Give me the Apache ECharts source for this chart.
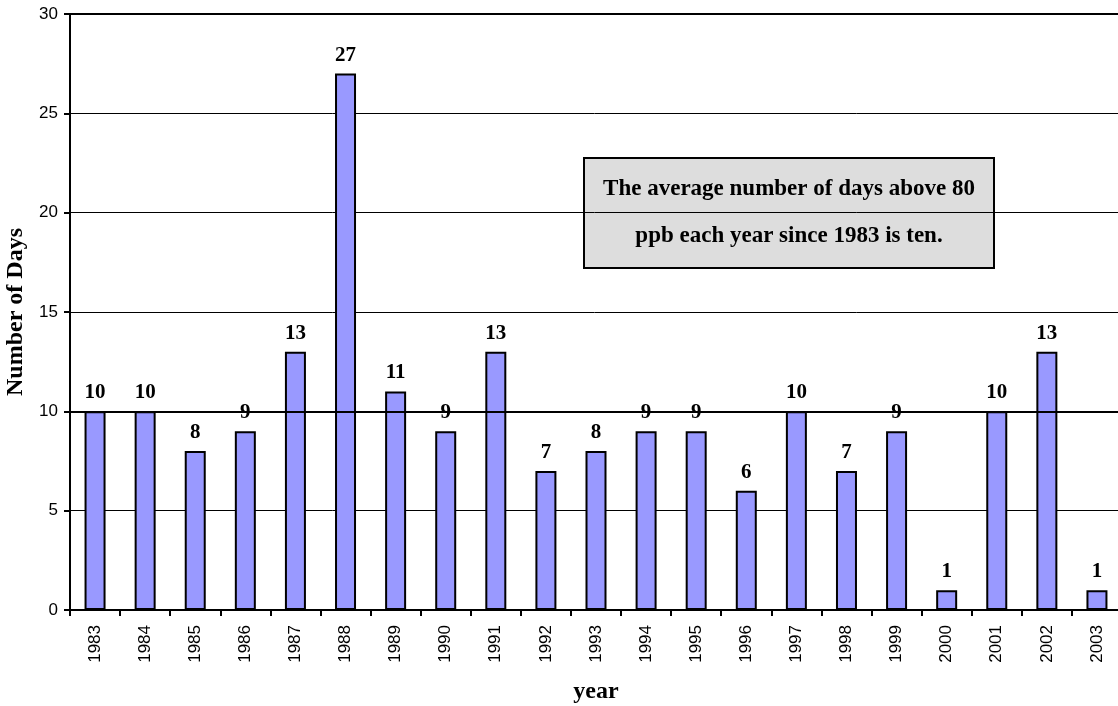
<!DOCTYPE html>
<html>
<head>
<meta charset="utf-8">
<script src="https://cdn.jsdelivr.net/npm/echarts@6/dist/echarts.min.js"></script>
<style>
  html, body { margin: 0; padding: 0; background: #ffffff; }
  #chart { width: 1118px; height: 706px; }
</style>
</head>
<body>
<div id="chart"></div>
<script>
// Days per year with ozone above 80 ppb
const years = ['1983','1984','1985','1986','1987','1988','1989','1990','1991','1992','1993',
               '1994','1995','1996','1997','1998','1999','2000','2001','2002','2003'];
const daysAbove = [10, 10, 8, 9, 13, 27, 11, 9, 13, 7, 8, 9, 9, 6, 10, 7, 9, 1, 10, 13, 1];
const averageDays = 10;
const yTicks = { min: 0, max: 30, interval: 5 };
const noteLines = ['The average number of days above 80', 'ppb each year since 1983 is ten.'];

const chart = echarts.init(document.getElementById('chart'), null, { renderer: 'canvas' });

chart.setOption({
  animation: false,
  backgroundColor: '#ffffff',
  grid: {
    left: 70, right: -4, top: 14, bottom: 96,
    containLabel: false,
    outerBoundsMode: 'none',
    show: true, borderColor: '#000000', borderWidth: 2, backgroundColor: 'transparent'
  },
  xAxis: {
    type: 'category',
    data: years,
    name: 'year',
    nameLocation: 'middle',
    nameGap: 70,
    nameTextStyle: { fontFamily: 'Liberation Serif', fontWeight: 'bold', fontSize: 24, color: '#000' },
    axisLine: { lineStyle: { color: '#000', width: 2 } },
    axisTick: { show: true, length: 6, lineStyle: { color: '#000', width: 2 } },
    axisLabel: { rotate: 90, margin: 15, fontFamily: 'Liberation Sans', fontSize: 17, color: '#000' }
  },
  yAxis: {
    type: 'value',
    min: yTicks.min, max: yTicks.max, interval: yTicks.interval,
    name: 'Number of Days',
    nameLocation: 'middle',
    nameGap: 42,
    nameTextStyle: { fontFamily: 'Liberation Serif', fontWeight: 'bold', fontSize: 24, color: '#000' },
    axisLine: { show: true, lineStyle: { color: '#000', width: 2 } },
    axisTick: { show: true, length: 6, lineStyle: { color: '#000', width: 2 } },
    axisLabel: { margin: 12, fontFamily: 'Liberation Sans', fontSize: 17, color: '#000' },
    splitLine: { show: true, lineStyle: { color: '#000', width: 1 } }
  },
  series: [{
    type: 'bar',
    data: daysAbove,
    barWidth: 21,
    itemStyle: { color: '#9999ff', borderColor: '#000', borderWidth: 2 },
    label: {
      show: true, position: 'top', distance: 8,
      fontFamily: 'Liberation Serif', fontWeight: 'bold', fontSize: 21, color: '#000'
    },
    markLine: {
      silent: true,
      symbol: 'none',
      label: { show: false },
      lineStyle: { color: '#000', width: 2, type: 'solid' },
      data: [{ yAxis: averageDays }]
    }
  }],
  graphic: [{
    type: 'group',
    left: 583, top: 157,
    children: [{
      type: 'rect',
      shape: { x: 0, y: 0, width: 410, height: 110 },
      style: { fill: '#dddddd', stroke: '#000', lineWidth: 2 }
    }, {
      type: 'text',
      x: 205, y: 55,
      style: {
        text: noteLines.join('\n'),
        align: 'center', verticalAlign: 'middle',
        fontFamily: 'Liberation Serif', fontWeight: 'bold', fontSize: 23,
        lineHeight: 47, fill: '#000'
      }
    }]
  }]
});
</script>
</body>
</html>
